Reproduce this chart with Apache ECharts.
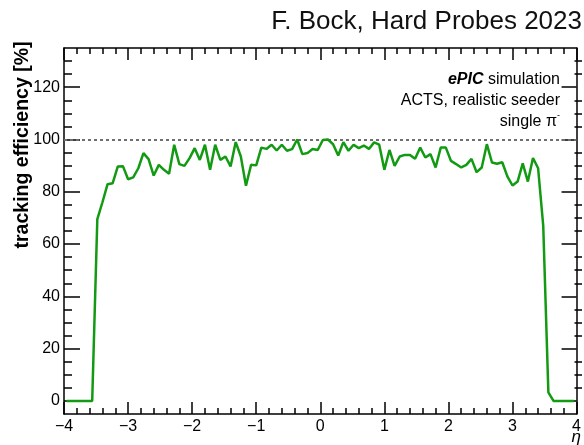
<!DOCTYPE html>
<html>
<head>
<meta charset="utf-8">
<script src="https://cdn.jsdelivr.net/npm/echarts@6/dist/echarts.min.js"></script>
<style>
  html, body { margin: 0; padding: 0; background: #fff; }
  #chart { width: 584px; height: 445px; }
</style>
</head>
<body>
<div id="chart"></div>
<script>
// Binning of the pseudorapidity histogram
const etaMin = -4;
const binWidth = 0.08;

// Tracking efficiency per eta bin [%]
const efficiency = [
  0, 0, 0, 0, 0, 0, 69.5, 76, 82.9, 83.3,
  89.7, 89.8, 84.8, 85.5, 89, 94.8, 92.5, 86.2, 90.3, 88.4,
  86.9, 98, 90.6, 89.9, 92.9, 96.7, 92.2, 98, 88.4, 98,
  92.2, 93.5, 89.7, 99, 93.5, 82.3, 90.3, 90.1, 96.9, 96.4,
  98, 95.8, 98, 95.7, 96.3, 100, 94.4, 94.8, 96.4, 96,
  99.8, 100, 98.2, 93.9, 99, 95.7, 98, 96.7, 97.7, 96.4,
  98.9, 98, 88.4, 96, 89.9, 93.5, 94.1, 94.1, 92.6, 96.9,
  93.1, 94.4, 89.3, 96.9, 96.9, 91.8, 90.6, 89.3, 90.3, 92.6,
  87.5, 89.3, 98.2, 91.2, 90.7, 91.3, 85.9, 82.4, 83.9, 90.9,
  83.9, 92.9, 89, 67, 3.3, 0, 0, 0, 0, 0
];

// Axis tick values
const yMajorTicks = [0, 20, 40, 60, 80, 100, 120];
const yMinorTicks = [5, 10, 15, 25, 30, 35, 45, 50, 55, 65, 70, 75, 85, 90, 95, 105, 110, 115, 125, 130];

// Text
const headerText = 'F. Bock, Hard Probes 2023';
const yTitle = 'tracking efficiency [%]';
const xTitle = 'η';
const referenceLevel = 100;

const points = efficiency.map((v, i) => [etaMin + binWidth * (i + 0.5), v]);

const FONT = '"Liberation Sans", Arial, Helvetica, sans-serif';
const frameLine = { show: true, onZero: false, lineStyle: { color: '#000', width: 1.5 } };
const plotRect = { left: 64, right: 2, top: 48, bottom: 31, containLabel: false };

// Frame grid carries the data, major ticks and labels; the second grid,
// stacked on the same rectangle, only adds the short minor ticks on y.
function yAxisSet(gridIndex, position, ticks, len, showLabels, showLine) {
  return {
    gridIndex: gridIndex,
    type: 'value', position: position, min: -5, max: 135,
    axisLine: showLine ? frameLine : { show: false, onZero: false },
    splitLine: { show: false },
    axisTick: { show: true, inside: true, length: len, customValues: ticks,
                lineStyle: { color: '#000', width: 1.5 } },
    axisLabel: showLabels ? {
      show: true, customValues: ticks, color: '#000', fontSize: 16,
      fontFamily: FONT, margin: 4
    } : { show: false }
  };
}

function xAxisSet(position, showLabels) {
  return {
    gridIndex: 0,
    type: 'value', position: position, min: -4, max: 4, interval: 1,
    axisLine: frameLine,
    splitLine: { show: false },
    axisTick: { show: true, inside: true, length: 12, lineStyle: { color: '#000', width: 1.5 } },
    minorTick: { show: true, splitNumber: 5, length: 6, lineStyle: { color: '#000', width: 1.5 } },
    axisLabel: showLabels ? {
      show: true, color: '#000', fontSize: 16, fontFamily: FONT, margin: 5,
      formatter: v => String(v).replace('-', '\u2212')
    } : { show: false }
  };
}

const chart = echarts.init(document.getElementById('chart'), null, { renderer: 'canvas' });

chart.setOption({
  animation: false,
  backgroundColor: '#fff',
  grid: [Object.assign({}, plotRect), Object.assign({}, plotRect)],
  xAxis: [
    xAxisSet('bottom', true),
    xAxisSet('top', false),
    { gridIndex: 1, type: 'value', min: -4, max: 4, show: false }
  ],
  yAxis: [
    yAxisSet(0, 'left', yMajorTicks, 16, true, true),
    yAxisSet(0, 'right', yMajorTicks, 15, false, true),
    yAxisSet(1, 'left', yMinorTicks, 8, false, false),
    yAxisSet(1, 'right', yMinorTicks, 7.5, false, false)
  ],
  series: [{
    type: 'line',
    data: points,
    xAxisIndex: 0, yAxisIndex: 0,
    showSymbol: false,
    lineStyle: { color: '#139a13', width: 2.5 },
    z: 3,
    markLine: {
      silent: true, symbol: 'none',
      label: { show: false },
      lineStyle: { color: '#6e6e6e', width: 2, type: [3, 3] },
      data: [{ yAxis: referenceLevel }],
      z: 2
    }
  }],
  graphic: [
    {
      type: 'text', x: 582, y: 22,
      style: { text: headerText, align: 'right', verticalAlign: 'middle',
               fontSize: 26, fontFamily: FONT, fill: '#111' }
    },
    {
      type: 'text', x: 560, y: 69.5,
      style: {
        text: '{b|ePIC} simulation\nACTS, realistic seeder\nsingle π{s|-}',
        align: 'right', verticalAlign: 'top', fontSize: 16, lineHeight: 21,
        fontFamily: FONT, fill: '#000',
        rich: {
          b: { fontWeight: 'bold', fontStyle: 'italic', fontSize: 16, fontFamily: FONT, fill: '#000' },
          s: { fontSize: 9, fontFamily: FONT, verticalAlign: 'top', padding: [0, 0, 8, 0], fill: '#000' }
        }
      }
    },
    {
      type: 'text', x: 23, y: 145, rotation: Math.PI / 2,
      style: {
        text: yTitle, align: 'center', verticalAlign: 'middle',
        fontSize: 19.5, fontWeight: 'bold', fontFamily: FONT, fill: '#000'
      }
    },
    {
      type: 'text', x: 581, y: 437,
      style: {
        text: xTitle, align: 'right', verticalAlign: 'middle',
        fontSize: 17, fontStyle: 'italic', fontFamily: FONT, fill: '#000'
      }
    }
  ]
});
</script>
</body>
</html>
